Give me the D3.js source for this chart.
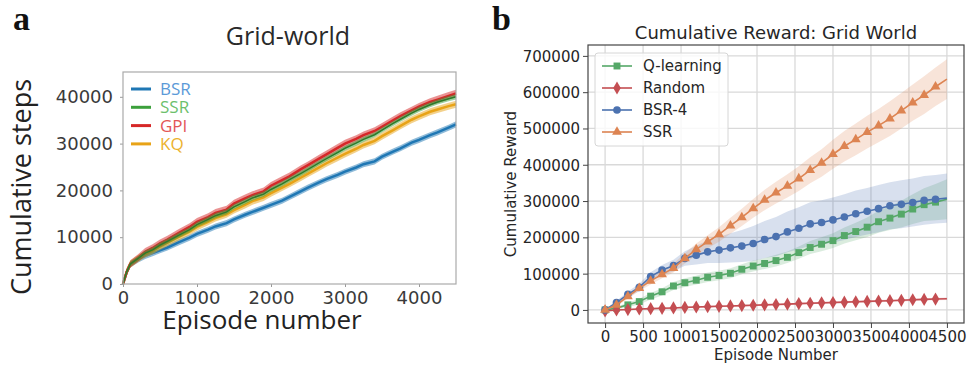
<!DOCTYPE html>
<html>
<head>
<meta charset="utf-8">
<script src="https://cdn.jsdelivr.net/npm/d3@7"></script>
<style>
  body { margin: 0; background: #fff; }
  svg { display: block; }
</style>
</head>
<body>
<div id="chart"></div>
<script>
// ---------- panel a : Grid-world cumulative steps ----------
const episodesA = [0, 50, 100, 200, 300, 400, 500, 600, 750, 900, 1000, 1150, 1250, 1400, 1500, 1650, 1750, 1900, 2000, 2150, 2250, 2400, 2500, 2650, 2750, 2900, 3000, 3150, 3250, 3400, 3500, 3650, 3750, 3900, 4000, 4150, 4250, 4400, 4500]
const gpiSteps = [0, 2600, 4300, 5500, 6900, 7700, 8700, 9500, 10900, 12200, 13300, 14300, 15200, 15900, 17200, 18300, 19000, 19800, 21000, 22200, 23000, 24500, 25400, 26800, 27700, 29100, 30000, 31000, 31800, 32700, 33600, 35000, 35900, 37100, 37900, 38900, 39400, 40200, 40700]
const ssrSteps = [0, 2600, 4300, 5400, 6600, 7300, 8300, 9100, 10400, 11600, 12700, 13800, 14600, 15400, 16500, 17600, 18400, 19200, 20200, 21400, 22300, 23600, 24500, 25900, 26800, 28100, 29000, 30100, 30900, 31900, 32900, 34300, 35200, 36500, 37300, 38300, 38900, 39600, 40000]
const kqSteps = [0, 2600, 4300, 5400, 6400, 7100, 8000, 8800, 10000, 11200, 12200, 13300, 14100, 14900, 15800, 16900, 17700, 18500, 19400, 20600, 21400, 22700, 23600, 24900, 25800, 27000, 27800, 28900, 29700, 30600, 31600, 32900, 33800, 35100, 35800, 36800, 37300, 38000, 38400]
const bsrSteps = [0, 2500, 4200, 5200, 6000, 6600, 7200, 7800, 8900, 9900, 10700, 11600, 12300, 13000, 13800, 14800, 15400, 16300, 16900, 17800, 18600, 19800, 20600, 21700, 22400, 23300, 24000, 24900, 25600, 26200, 27200, 28300, 29000, 30200, 30800, 31800, 32400, 33400, 34100]
const seriesA = ['BSR', 'SSR', 'GPI', 'KQ']
const spreadA = [650, 550, 800, 750]

// ---------- panel b : cumulative reward ----------
const episodesB = [0, 150, 300, 450, 600, 750, 900, 1050, 1200, 1350, 1500, 1650, 1800, 1950, 2100, 2250, 2400, 2550, 2700, 2850, 3000, 3150, 3300, 3450, 3600, 3750, 3900, 4050, 4200, 4350, 4500]
const qMean = [0, 5000, 14000, 23000, 38000, 50000, 66000, 75000, 82000, 90000, 95000, 101000, 112000, 121000, 128000, 136000, 145000, 158000, 172000, 181000, 191000, 205000, 216000, 228000, 243000, 253000, 264000, 278000, 290000, 297000, 305000]
const qStd = [2000, 4000, 6000, 8000, 9000, 10000, 11000, 12000, 12000, 13000, 13000, 14000, 14000, 15000, 15000, 16000, 16000, 17000, 18000, 19000, 20000, 22000, 24000, 27000, 30000, 33000, 37000, 41000, 45000, 50000, 55000]
const randMean = [-3000, 0, 1000, 2500, 3500, 4500, 5500, 7000, 8000, 9000, 10000, 11000, 12000, 13000, 14000, 15000, 16000, 17500, 18500, 19500, 20500, 21500, 22500, 23500, 24500, 25500, 26500, 28000, 29000, 30000, 31000]
const randStd = [1000, 1200, 1400, 1500, 1600, 1700, 1800, 1900, 2000, 2000, 2100, 2200, 2200, 2300, 2400, 2400, 2500, 2500, 2600, 2700, 2700, 2800, 2800, 2900, 3000, 3000, 3100, 3100, 3200, 3200, 3300]
const bsrMean = [0, 20000, 43000, 62000, 92000, 110000, 122000, 142000, 151000, 160000, 165000, 171000, 176000, 183000, 194000, 202000, 215000, 225000, 237000, 241000, 248000, 256000, 265000, 272000, 279000, 287000, 291000, 296000, 302000, 305000, 308000]
const bsrStd = [2000, 5000, 8000, 10000, 12000, 14000, 16000, 20000, 26000, 31000, 36000, 40000, 44000, 48000, 51000, 54000, 56000, 58000, 60000, 61000, 62000, 63000, 64000, 64000, 65000, 65000, 66000, 66000, 67000, 67000, 68000]
const ssrMean = [0, 14000, 37000, 60000, 80000, 98000, 115000, 142000, 167000, 188000, 208000, 232000, 255000, 280000, 303000, 323000, 342000, 362000, 385000, 405000, 429000, 451000, 470000, 490000, 508000, 527000, 549000, 571000, 592000, 615000, 636000]
const ssrStd = [2000, 4000, 6000, 8000, 10000, 11000, 12000, 14000, 16000, 18000, 20000, 22000, 24000, 26000, 28000, 30000, 32000, 34000, 36000, 38000, 40000, 42000, 44000, 45000, 46000, 48000, 49000, 50000, 52000, 53000, 55000]
const seriesB = ['Q-learning', 'Random', 'BSR-4', 'SSR']
const xTicksB = [0, 500, 1000, 1500, 2000, 2500, 3000, 3500, 4000, 4500]
const yTicksB = [0, 100000, 200000, 300000, 400000, 500000, 600000, 700000]
const xTicksA = [0, 1000, 2000, 3000, 4000]
const yTicksA = [0, 10000, 20000, 30000, 40000]

const width = 967
const height = 366

const svg = d3.select('#chart')
  .append('svg')
  .attr('width', width)
  .attr('height', height)
  .attr('viewBox', [0, 0, width, height])

// panel letters
svg.append('text').attr('x', 13).attr('y', 30)
  .style('font-family', '"Liberation Serif", serif').style('font-weight', 'bold')
  .style('font-size', '34px').attr('fill', '#111').text('a')
svg.append('text').attr('x', 492).attr('y', 30)
  .style('font-family', '"Liberation Serif", serif').style('font-weight', 'bold')
  .style('font-size', '34px').attr('fill', '#111').text('b')

// ====================== panel a ======================
const xA = d3.scaleLinear().domain([0, 4500]).range([123, 456])
const yA = d3.scaleLinear().domain([0, 45300]).range([284, 72])
const fontA = '"Open Sans", sans-serif'

const gA = svg.append('g')

gA.append('text')
  .attr('x', 288).attr('y', 45)
  .attr('text-anchor', 'middle')
  .style('font-family', fontA).style('font-size', '25px')
  .attr('fill', '#2a2a2a')
  .text('Grid-world')

const axisXA = gA.append('g')
  .attr('transform', 'translate(0,284)')
  .call(d3.axisBottom(xA).tickValues(xTicksA).tickSize(3).tickFormat(d3.format('d')))
const axisYA = gA.append('g')
  .attr('transform', 'translate(123,0)')
  .call(d3.axisLeft(yA).tickValues(yTicksA).tickSize(3).tickFormat(d3.format('d')))
gA.selectAll('.domain').remove()
gA.selectAll('.tick line').attr('stroke', '#999')
gA.selectAll('.tick text')
  .style('font-family', '"DejaVu Sans", sans-serif').style('font-size', '18px')
  .attr('fill', '#3a3a3a')
axisXA.selectAll('.tick text').attr('dy', 0).attr('y', 20)
axisYA.selectAll('.tick text').attr('x', -10)

const stepsBySeries = { BSR: bsrSteps, SSR: ssrSteps, GPI: gpiSteps, KQ: kqSteps }
const colorA = { BSR: '#1f77b4', SSR: '#3ca03c', GPI: '#d62728', KQ: '#e8a317' }
const textColorA = { BSR: '#5b9ad8', SSR: '#6cc06c', GPI: '#e35656', KQ: '#ecb22e' }
const drawOrderA = ['BSR', 'KQ', 'GPI', 'SSR']

drawOrderA.forEach(name => {
  const vals = stepsBySeries[name]
  const sp = spreadA[seriesA.indexOf(name)]
  const rows = episodesA.map((e, i) => ({ e, v: vals[i] }))
  gA.append('path')
    .datum(rows)
    .attr('fill', colorA[name])
    .attr('opacity', 0.5)
    .attr('d', d3.area().x(d => xA(d.e)).y0(d => yA(Math.max(0, d.v - sp))).y1(d => yA(d.v + sp)))
  gA.append('path')
    .datum(rows)
    .attr('fill', 'none')
    .attr('stroke', name === 'SSR' ? '#2a7d2a' : colorA[name])
    .attr('stroke-width', name === 'SSR' ? 1.5 : 2.5)
    .attr('d', d3.line().x(d => xA(d.e)).y(d => yA(d.v)))
})

// frame
gA.append('rect')
  .attr('x', 123).attr('y', 72).attr('width', 333).attr('height', 212)
  .attr('fill', 'none').attr('stroke', '#aaa').attr('stroke-width', 1.2)

// legend a
const legA = gA.append('g')
seriesA.forEach((name, i) => {
  const yy = 89 + i * 18.3
  legA.append('line')
    .attr('x1', 131).attr('x2', 151).attr('y1', yy).attr('y2', yy)
    .attr('stroke', colorA[name]).attr('stroke-width', 3)
  legA.append('text')
    .attr('x', 160).attr('y', yy + 6)
    .style('font-family', fontA).style('font-size', '17px')
    .attr('fill', textColorA[name])
    .text(name)
})

gA.append('text')
  .attr('transform', 'translate(31,187) rotate(-90)')
  .attr('text-anchor', 'middle')
  .style('font-family', fontA).style('font-size', '27px')
  .attr('fill', '#222')
  .text('Cumulative steps')
gA.append('text')
  .attr('x', 262).attr('y', 329)
  .attr('text-anchor', 'middle')
  .style('font-family', fontA).style('font-size', '26px')
  .attr('fill', '#222')
  .text('Episode number')

// ====================== panel b ======================
const xB = d3.scaleLinear().domain([-225, 4725]).range([588, 964])
const yB = d3.scaleLinear().domain([-36000, 730000]).range([323, 45])
const fontB = '"DejaVu Sans", sans-serif'
const gB = svg.append('g')

// grid
gB.append('g').selectAll('line').data(xTicksB).join('line')
  .attr('x1', d => xB(d)).attr('x2', d => xB(d)).attr('y1', 45).attr('y2', 323)
  .attr('stroke', '#d9d9d9').attr('stroke-width', 1.3)
gB.append('g').selectAll('line').data(yTicksB).join('line')
  .attr('x1', 588).attr('x2', 964).attr('y1', d => yB(d)).attr('y2', d => yB(d))
  .attr('stroke', '#d9d9d9').attr('stroke-width', 1.3)

const meanB = { 'Q-learning': qMean, 'Random': randMean, 'BSR-4': bsrMean, 'SSR': ssrMean }
const stdB = { 'Q-learning': qStd, 'Random': randStd, 'BSR-4': bsrStd, 'SSR': ssrStd }
const colorB = { 'Q-learning': '#55a868', 'Random': '#c44e52', 'BSR-4': '#4c72b0', 'SSR': '#dd8452' }
const symbolB = { 'Q-learning': d3.symbolSquare, 'Random': d3.symbolDiamond, 'BSR-4': d3.symbolCircle, 'SSR': d3.symbolTriangle }
const symbolSize = { 'Q-learning': 48, 'Random': 50, 'BSR-4': 46, 'SSR': 42 }

seriesB.forEach(name => {
  const rows = episodesB.map((e, i) => ({ e, m: meanB[name][i], s: stdB[name][i] }))
  gB.append('path')
    .datum(rows)
    .attr('fill', colorB[name])
    .attr('opacity', 0.22)
    .attr('d', d3.area().x(d => xB(d.e)).y0(d => yB(d.m - d.s)).y1(d => yB(d.m + d.s)))
})

seriesB.forEach(name => {
  const rows = episodesB.map((e, i) => ({ e, m: meanB[name][i] }))
  gB.append('path')
    .datum(rows)
    .attr('fill', 'none')
    .attr('stroke', colorB[name])
    .attr('stroke-width', 1.6)
    .attr('d', d3.line().x(d => xB(d.e)).y(d => yB(d.m)))
  // markers on every point except the final one
  gB.append('g').selectAll('path')
    .data(rows.slice(0, -1))
    .join('path')
    .attr('transform', d => `translate(${xB(d.e)},${yB(d.m)})`)
    .attr('d', d3.symbol().type(symbolB[name]).size(symbolSize[name]))
    .attr('fill', colorB[name])
})

// axes
const axisXB = gB.append('g')
  .attr('transform', 'translate(0,323)')
  .call(d3.axisBottom(xB).tickValues(xTicksB).tickSize(5).tickFormat(d3.format('d')))
const axisYB = gB.append('g')
  .attr('transform', 'translate(588,0)')
  .call(d3.axisLeft(yB).tickValues(yTicksB).tickSize(5).tickFormat(d3.format('d')))
gB.selectAll('.domain').remove()
gB.selectAll('.tick line').attr('stroke', '#444')
gB.selectAll('.tick text')
  .style('font-family', fontB).style('font-size', '15px')
  .attr('fill', '#262626')
axisXB.selectAll('.tick text').attr('dy', 0).attr('y', 19)
axisYB.selectAll('.tick text').attr('x', -8).attr('dy', '0.36em')

gB.append('rect')
  .attr('x', 588).attr('y', 45).attr('width', 376).attr('height', 278)
  .attr('fill', 'none').attr('stroke', '#444').attr('stroke-width', 1.2)

// legend b
const legB = gB.append('g')
legB.append('rect')
  .attr('x', 595).attr('y', 53).attr('width', 133).attr('height', 93).attr('rx', 3)
  .attr('fill', '#fff').attr('fill-opacity', 0.8)
  .attr('stroke', '#d6d6d6')
seriesB.forEach((name, i) => {
  const yy = 66 + i * 22
  legB.append('line')
    .attr('x1', 602).attr('x2', 632).attr('y1', yy).attr('y2', yy)
    .attr('stroke', colorB[name]).attr('stroke-width', 1.6)
  legB.append('path')
    .attr('transform', `translate(617,${yy})`)
    .attr('d', d3.symbol().type(symbolB[name]).size(symbolSize[name]))
    .attr('fill', colorB[name])
  legB.append('text')
    .attr('x', 643).attr('y', yy + 5)
    .style('font-family', fontB).style('font-size', '15px')
    .attr('fill', '#262626')
    .text(name)
})

gB.append('text')
  .attr('x', 776).attr('y', 39)
  .attr('text-anchor', 'middle')
  .style('font-family', fontB).style('font-size', '18px')
  .attr('fill', '#262626')
  .text('Cumulative Reward: Grid World')
gB.append('text')
  .attr('transform', 'translate(516,184) rotate(-90)')
  .attr('text-anchor', 'middle')
  .style('font-family', fontB).style('font-size', '15px')
  .attr('fill', '#262626')
  .text('Cumulative Reward')
gB.append('text')
  .attr('x', 776).attr('y', 360)
  .attr('text-anchor', 'middle')
  .style('font-family', fontB).style('font-size', '15px')
  .attr('fill', '#262626')
  .text('Episode Number')
</script>
</body>
</html>
